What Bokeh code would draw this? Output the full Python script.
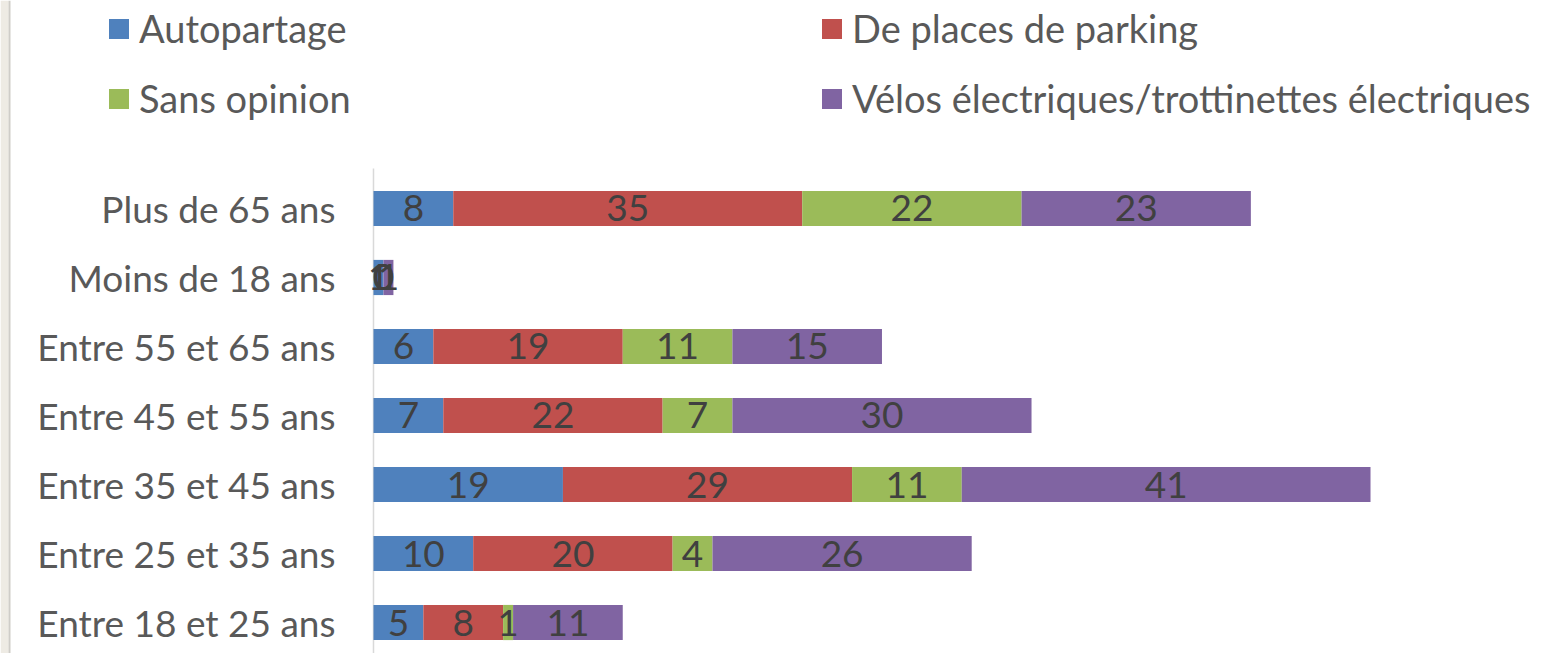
import numpy as np
from bokeh.plotting import figure
from bokeh.models import (ColumnDataSource, Range1d, Legend, LegendItem, BoxAnnotation)
from bokeh.core.properties import value
from bokeh.embed import file_html
from bokeh.resources import INLINE

# ---------------- data ----------------
categories = ["Entre 18 et 25 ans", "Entre 25 et 35 ans", "Entre 35 et 45 ans",
              "Entre 45 et 55 ans", "Entre 55 et 65 ans", "Moins de 18 ans",
              "Plus de 65 ans"]
series_names = ["Autopartage", "De places de parking", "Sans opinion",
                "Vélos électriques/trottinettes électriques"]
autopartage = [5, 10, 19, 7, 6, 1, 8]
parking = [8, 20, 29, 22, 19, 0, 35]
sans_opinion = [1, 4, 11, 7, 11, 0, 22]
velos = [11, 26, 41, 30, 15, 1, 23]
colors = ["#4F81BD", "#C0504D", "#9BBB59", "#8064A2"]

FONT = "Lato"
FS = "37px"
FS_LEG = "38px"

series = [autopartage, parking, sans_opinion, velos]
keys = ["s0", "s1", "s2", "s3"]
ypos = list(range(len(categories)))

data = {"y": ypos, "cat": categories, "zero": [0] * len(categories)}
for k, s in zip(keys, series):
    data[k] = s
source = ColumnDataSource(data)

W, H = 1544, 653
Y_MIN, Y_MAX = -0.449, 9.014
AXIS_TOP = 6.58
p = figure(width=W, height=H, output_backend="svg", toolbar_location=None,
           x_range=Range1d(-37.41, 117.45), y_range=Range1d(Y_MIN, Y_MAX),
           min_border_left=0, min_border_right=0, min_border_top=0,
           min_border_bottom=0)
p.outline_line_color = None
p.grid.visible = False
p.xaxis.visible = False
p.yaxis.visible = False
p.background_fill_color = "white"
p.border_fill_color = "white"

# screenshot side strip
p.add_layout(BoxAnnotation(left=0, right=8, left_units="screen", right_units="screen",
                           fill_color="#EEEBE4", fill_alpha=1, line_color=None))
p.add_layout(BoxAnnotation(left=8, right=10, left_units="screen", right_units="screen",
                           fill_color="#CFCDC8", fill_alpha=1, line_color=None))

# axis line
p.segment(x0=[0], y0=[Y_MIN], x1=[0], y1=[AXIS_TOP], line_color="#D9D9D9", line_width=1.5)

renderers = p.hbar_stack(keys, y="y", height=0.51, color=colors, source=source,
                         line_color=None)

# category labels
p.text(x="zero", y="y", text="cat", source=source, x_offset=-38,
       text_align="right", text_baseline="middle",
       text_font=value(FONT), text_font_size=FS, text_color="#595959")

# data labels
vals = np.array(series, dtype=float)
cum = np.cumsum(vals, axis=0)
lx, ly, lt = [], [], []
for si in range(vals.shape[0]):
    for ci in range(vals.shape[1]):
        lx.append(cum[si, ci] - vals[si, ci] / 2.0)
        ly.append(ypos[ci])
        lt.append(str(int(vals[si, ci])))
p.text(x=lx, y=ly, text=lt, text_align="center", text_baseline="middle",
       text_font=value(FONT), text_font_size=FS, text_color="#404040")

# legends (two columns)
def make_legend(idx, x):
    items = [LegendItem(label=series_names[i], renderers=[renderers[i]]) for i in idx]
    lg = Legend(items=items, location=(x, 531), orientation="vertical",
                border_line_color=None, background_fill_alpha=0,
                padding=0, margin=0, spacing=22, label_height=48,
                glyph_width=25, glyph_height=25, label_standoff=8,
                label_text_font=FONT, label_text_font_size=FS_LEG,
                label_text_color="#595959")
    p.add_layout(lg, "center")

make_legend([0, 2], 106)
make_legend([1, 3], 819)

open("out.html", "w").write(file_html(p, INLINE))
